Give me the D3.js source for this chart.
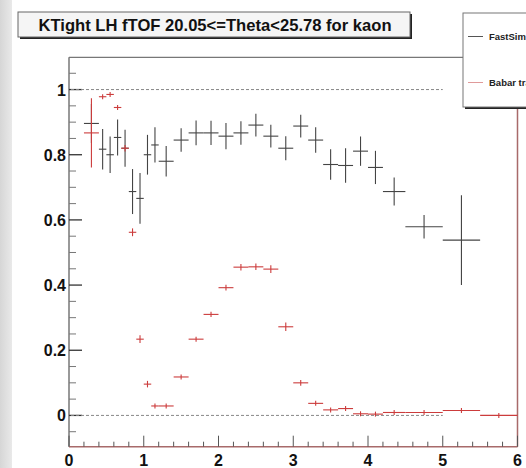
<!DOCTYPE html>
<html>
<head>
<meta charset="utf-8">
<script src="https://cdn.jsdelivr.net/npm/d3@7"></script>
<style>
  body { margin: 0; background: #fff; }
  svg { display: block; font-family: "Liberation Sans", Arial, Helvetica, sans-serif; }
</style>
</head>
<body>
<svg id="chart" width="526" height="468"></svg>
<script>
// bin edges (momentum), same for both histograms
var binLo = [0.2, 0.4, 0.5, 0.6, 0.7, 0.8, 0.9, 1.0, 1.1, 1.2, 1.4, 1.6, 1.8, 2.0, 2.2, 2.4, 2.6, 2.8, 3.0, 3.2, 3.4, 3.6, 3.8, 4.0, 4.2, 4.5, 5.0, 5.5];
var binHi = [0.4, 0.5, 0.6, 0.7, 0.8, 0.9, 1.0, 1.1, 1.2, 1.4, 1.6, 1.8, 2.0, 2.2, 2.4, 2.6, 2.8, 3.0, 3.2, 3.4, 3.6, 3.8, 4.0, 4.2, 4.5, 5.0, 5.5, 6.0];

// FastSim efficiency and errors (null = empty bin)
var fastVal = [0.896, 0.817, 0.80, 0.853, 0.82, 0.687, 0.666, 0.80, 0.83, 0.78, 0.845, 0.867, 0.867, 0.857, 0.867, 0.891, 0.857, 0.82, 0.888, 0.845, 0.77, 0.767, 0.811, 0.761, 0.687, 0.579, 0.538, null];
var fastErr = [0.06, 0.062, 0.056, 0.055, 0.057, 0.069, 0.078, 0.061, 0.054, 0.047, 0.036, 0.038, 0.037, 0.04, 0.036, 0.035, 0.035, 0.037, 0.035, 0.039, 0.047, 0.053, 0.045, 0.051, 0.043, 0.036, 0.138, null];

// Babar efficiency and errors
var babarVal = [0.867, 0.978, 0.985, 0.945, 0.82, 0.562, 0.234, 0.096, 0.029, 0.029, 0.118, 0.234, 0.31, 0.392, 0.455, 0.456, 0.449, 0.272, 0.10, 0.037, 0.017, 0.021, 0.005, 0.004, 0.009, 0.009, 0.015, 0.0];
var babarErr = [0.106, 0.007, 0.006, 0.008, 0.01, 0.012, 0.012, 0.01, 0.005, 0.004, 0.006, 0.007, 0.008, 0.009, 0.01, 0.01, 0.012, 0.013, 0.009, 0.006, 0.004, 0.005, 0.002, 0.002, 0.004, 0.004, 0.005, 0.005];

var xTickLabels = ['0', '1', '2', '3', '4', '5', '6'];
var yTickLabels = ['0', '0.2', '0.4', '0.6', '0.8', '1'];

var titleText = 'KTight LH fTOF 20.05<=Theta<25.78 for kaon';
var legendNames = ['FastSim tracks', 'Babar tracks'];

var svg = d3.select('#chart');

var x = d3.scaleLinear().domain([0, 6]).range([69, 517.5]);
var y = d3.scaleLinear().domain([-0.096, 1.099]).range([446.7, 57.3]);

// grey strip on the left
var defs = svg.append('defs');
var grad = defs.append('linearGradient').attr('id', 'strip').attr('x1', 0).attr('x2', 1);
grad.append('stop').attr('offset', '0%').attr('stop-color', '#d6d6d6');
grad.append('stop').attr('offset', '100%').attr('stop-color', '#e9e9e9');
svg.append('rect').attr('x', 0).attr('y', 0).attr('width', 12).attr('height', 468).attr('fill', 'url(#strip)');

// frame
svg.append('line').attr('x1', x(0)).attr('x2', x(6)).attr('y1', y.range()[1]).attr('y2', y.range()[1])
    .attr('stroke', '#555').attr('stroke-width', 1);
svg.append('line').attr('x1', x(0)).attr('x2', x(0)).attr('y1', y.range()[1]).attr('y2', y.range()[0])
    .attr('stroke', '#777').attr('stroke-width', 1.5);
svg.append('line').attr('x1', x(6)).attr('x2', x(6)).attr('y1', y.range()[1]).attr('y2', y.range()[0])
    .attr('stroke', '#a86a6a').attr('stroke-width', 1.5);
svg.append('line').attr('x1', x(0)).attr('x2', x(6)).attr('y1', y.range()[0]).attr('y2', y.range()[0])
    .attr('stroke', '#a86a6a').attr('stroke-width', 1.5);

// y ticks
var yMinor = d3.range(-1, 22).map(function(i) { return i * 0.05; });
svg.selectAll('.ytick')
    .data(yMinor)
    .enter()
    .append('line')
    .attr('x1', x(0))
    .attr('x2', function(d, i) { return x(0) + ((i - 1) % 4 === 0 ? 13 : 7); })
    .attr('y1', function(d) { return y(d); })
    .attr('y2', function(d) { return y(d); })
    .attr('stroke', function(d, i) { return (i - 1) % 4 === 0 ? '#333' : '#777'; })
    .attr('stroke-width', function(d, i) { return (i - 1) % 4 === 0 ? 1.3 : 1; });

svg.selectAll('.ylab')
    .data(yTickLabels)
    .enter()
    .append('text')
    .attr('x', 66)
    .attr('y', function(d) { return y(+d) + 6; })
    .attr('text-anchor', 'end')
    .style('font-size', '16px')
    .style('font-weight', 'bold')
    .style('fill', '#111')
    .text(function(d) { return d; });

// x ticks
var xMinor = d3.range(0, 31).map(function(i) { return i * 0.2; });
svg.selectAll('.xtick')
    .data(xMinor)
    .enter()
    .append('line')
    .attr('x1', function(d) { return x(d); })
    .attr('x2', function(d) { return x(d); })
    .attr('y1', y.range()[0])
    .attr('y2', function(d, i) { return y.range()[0] - (i % 5 === 0 ? 11 : 5); })
    .attr('stroke', '#555')
    .attr('stroke-width', 1);

svg.selectAll('.xlab')
    .data(xTickLabels)
    .enter()
    .append('text')
    .attr('x', function(d) { return x(+d); })
    .attr('y', 466)
    .attr('text-anchor', 'middle')
    .style('font-size', '16px')
    .style('font-weight', 'bold')
    .style('fill', '#111')
    .text(function(d) { return d; });

// dashed reference lines at 0 and 1
[0, 1].forEach(function(v) {
    svg.append('line')
        .attr('x1', x(0) + 2).attr('x2', x(5))
        .attr('y1', y(v)).attr('y2', y(v))
        .attr('stroke', '#888')
        .attr('stroke-width', 1)
        .attr('stroke-dasharray', '3,2');
});

// histogram points with error bars
function drawHist(vals, errs, color) {
    var pts = vals.map(function(v, i) {
        return { lo: binLo[i], hi: binHi[i], v: v, e: errs[i] };
    }).filter(function(d) { return d.v !== null; });

    var g = svg.append('g').attr('stroke', color).attr('stroke-width', 1.1).attr('fill', 'none');

    g.selectAll('.h')
        .data(pts)
        .enter()
        .append('line')
        .attr('x1', function(d) { return x(d.lo); })
        .attr('x2', function(d) { return x(d.hi); })
        .attr('y1', function(d) { return y(d.v); })
        .attr('y2', function(d) { return y(d.v); });

    // vertical error, at least a small tick so the cross shows
    g.selectAll('.v')
        .data(pts)
        .enter()
        .append('line')
        .attr('x1', function(d) { return x((d.lo + d.hi) / 2); })
        .attr('x2', function(d) { return x((d.lo + d.hi) / 2); })
        .attr('y1', function(d) { return Math.max(y(d.v - d.e), y(d.v) + 2.5); })
        .attr('y2', function(d) { return Math.min(y(d.v + d.e), y(d.v) - 2.5); });
}

drawHist(fastVal, fastErr, '#444');
drawHist(babarVal, babarErr, '#cc3c3c');

// title box
svg.append('rect').attr('x', 20).attr('y', 14).attr('width', 392).attr('height', 25).attr('fill', '#222');
svg.append('rect').attr('x', 18).attr('y', 12).attr('width', 392).attr('height', 25)
    .attr('fill', '#f5f5f5').attr('stroke', '#666').attr('stroke-width', 1);
svg.append('text')
    .attr('x', 215).attr('y', 30.5)
    .attr('text-anchor', 'middle')
    .style('font-size', '16.6px')
    .style('font-weight', 'bold')
    .style('fill', '#111')
    .text(titleText);

// legend box (runs off the right edge, as in the original canvas)
svg.append('rect').attr('x', 465).attr('y', 15).attr('width', 90).attr('height', 94).attr('fill', '#222');
svg.append('rect').attr('x', 463).attr('y', 13).attr('width', 90).attr('height', 94)
    .attr('fill', '#fff').attr('stroke', '#777').attr('stroke-width', 1);

var legColors = ['#555', '#e09a9a'];
var legY = [36.5, 82.5];
legendNames.forEach(function(name, i) {
    svg.append('line')
        .attr('x1', 468).attr('x2', 483)
        .attr('y1', legY[i]).attr('y2', legY[i])
        .attr('stroke', legColors[i]).attr('stroke-width', 1);
    svg.append('text')
        .attr('x', 489).attr('y', legY[i] + 3.5)
        .style('font-size', '9.5px')
        .style('font-weight', 'bold')
        .style('fill', '#222')
        .text(name);
});
</script>
</body>
</html>
